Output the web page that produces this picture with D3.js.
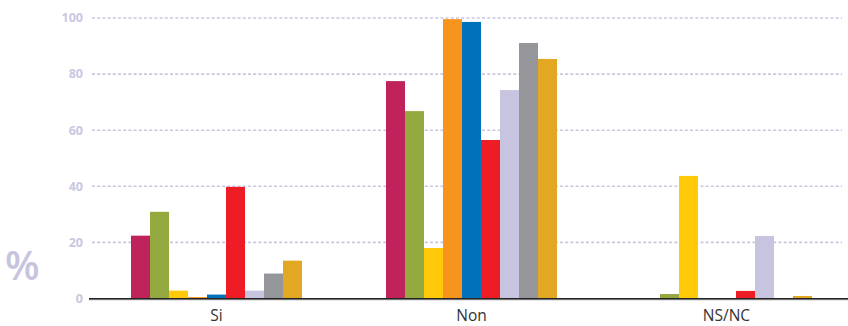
<!DOCTYPE html>
<html><head><meta charset="utf-8">
<script src="https://cdn.jsdelivr.net/npm/d3@7"></script>
<style>body{margin:0;background:#fff}svg{display:block}</style>
</head><body>
<svg id="c" width="848" height="326"></svg>
<script>
const categories = ["Si", "Non", "NS/NC"];
const seriesNames = ["s1","s2","s3","s4","s5","s6","s7","s8","s9"];
const seriesColors = ["#C0225C","#94A840","#FFC90A","#F7941D","#0071BB","#EE1C25","#C7C4E0","#959699","#E3A823"];
const s1 = [22.4, 77.5, 0];
const s2 = [30.9, 66.8, 1.6];
const s3 = [2.8, 18.0, 43.7];
const s4 = [0.5, 99.6, 0];
const s5 = [1.4, 98.6, 0];
const s6 = [39.8, 56.5, 2.7];
const s7 = [2.8, 74.3, 22.3];
const s8 = [8.9, 91.1, 0];
const s9 = [13.5, 85.4, 0.9];
const yTicks = [0, 20, 40, 60, 80, 100];

const series = [s1,s2,s3,s4,s5,s6,s7,s8,s9];
const svg = d3.select("#c");
const x0 = d3.scaleBand().domain(categories).range([89, 854]).paddingInner(84/255).paddingOuter(42/255);
const x1 = d3.scaleBand().domain(seriesNames).range([0, x0.bandwidth()]);
const y = d3.scaleLinear().domain([0, 100]).range([298.5, 18]);

// gridlines
svg.append("g").selectAll("line").data(yTicks.filter(d => d > 0)).join("line")
  .attr("x1", 92).attr("x2", 842)
  .attr("y1", d => y(d)).attr("y2", d => y(d))
  .attr("stroke", "#C9C6E2").attr("stroke-width", 1.6)
  .attr("stroke-dasharray", "3,2.2");

// tick labels
svg.append("g").selectAll("text").data(yTicks).join("text")
  .attr("x", 83).attr("y", d => y(d)).attr("dy", "0.35em")
  .attr("text-anchor", "end")
  .attr("font-family", "'Open Sans', sans-serif").attr("font-weight", "bold")
  .attr("font-size", 12.5).attr("fill", "#CAC7E2")
  .text(d => d);

// bars
const g = svg.append("g");
categories.forEach((cat, ci) => {
  g.append("g").attr("transform", `translate(${x0(cat)},0)`)
    .selectAll("rect").data(series.map((s, si) => ({k: seriesNames[si], v: s[ci], c: seriesColors[si]})))
    .join("rect")
    .attr("x", d => x1(d.k)).attr("width", x1.bandwidth())
    .attr("y", d => y(d.v)).attr("height", d => y(0) - y(d.v))
    .attr("fill", d => d.c);
});

// axis line
svg.append("line").attr("x1", 89).attr("x2", 848).attr("y1", 299.8).attr("y2", 299.8)
  .attr("stroke", "#aaa").attr("stroke-width", 1);
svg.append("line").attr("x1", 89).attr("x2", 848).attr("y1", 298.8).attr("y2", 298.8)
  .attr("stroke", "#222").attr("stroke-width", 1.5);

// category labels
svg.append("g").selectAll("text").data(categories).join("text")
  .attr("x", d => x0(d) + x0.bandwidth()/2).attr("y", 321)
  .attr("text-anchor", "middle")
  .attr("font-family", "'Open Sans', sans-serif").attr("font-size", 15.5)
  .attr("fill", "#333")
  .text(d => d);

// percent sign
svg.append("text").attr("x", 5).attr("y", 280)
  .attr("font-family", "'Open Sans', sans-serif").attr("font-weight", "600")
  .attr("font-size", 40).attr("fill", "#C7C4E0")
  .text("%");
</script>
</body></html>
